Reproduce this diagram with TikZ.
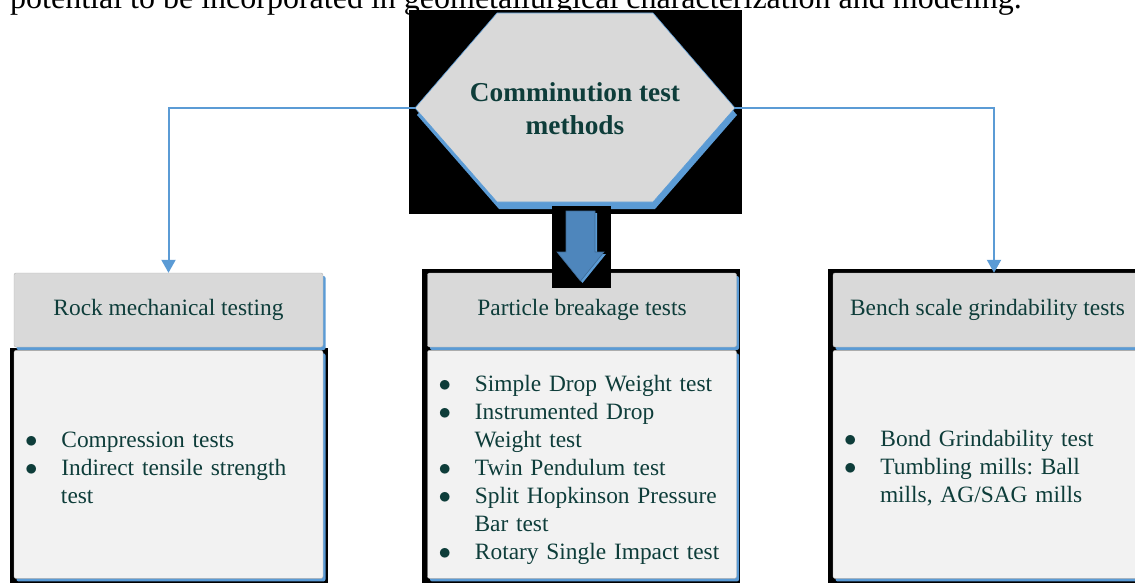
\documentclass[tikz,border=0pt]{standalone}
\usepackage{fontspec}
\setmainfont{Liberation Serif}
\usetikzlibrary{positioning,arrows.meta,shadows}
\definecolor{linkblue}{HTML}{5B9BD5}
\definecolor{headgray}{HTML}{D9D9D9}
\definecolor{bodygray}{HTML}{F2F2F2}
\definecolor{inkteal}{HTML}{0E3D3A}
\definecolor{arrowblue}{HTML}{4E86BC}
\frenchspacing
\newcommand{\headfont}{\fontsize{23.4}{28}\selectfont}
\newenvironment{testlist}{\begin{list}{\ensuremath{\bullet}}{%
  \setlength{\leftmargin}{47pt}\setlength{\labelwidth}{12pt}%
  \setlength{\labelsep}{24pt}\setlength{\itemsep}{0pt}%
  \setlength{\parsep}{0pt}\setlength{\topsep}{0pt}\setlength{\partopsep}{0pt}}}%
  {\end{list}}

\begin{document}
\begin{tikzpicture}[x=1pt,y=-1pt,
  link/.style={linkblue,line width=2pt,-{Triangle[width=14pt,length=13pt]}},
  head/.style={draw=gray!60,fill=headgray,rounded corners=2pt,
    minimum width=309pt,minimum height=74pt,inner sep=0pt,
    text=inkteal,font=\headfont,
    drop shadow={shadow xshift=2.5pt,shadow yshift=-3pt,fill=linkblue,opacity=1}},
  body/.style={head,fill=bodygray,minimum height=228pt},
  items/.style={anchor=west,inner sep=0pt,text width=300pt,align=left,
    text=inkteal,font=\headfont}]
\useasboundingbox (0,0) rectangle (1135,583);
\clip (0,0) rectangle (1135,583);

% line of running text cut by the top edge
\node[anchor=base west,inner sep=0pt,font=\fontsize{32}{38}\selectfont] (runtext) at (10,9)
  {potential to be incorporated in geometallurgical characterization and modeling.};

% black backdrops
\fill (409,10) rectangle (742,214);
\fill (10,348) rectangle (328,583);
\fill (422,269) rectangle (740,583);
\fill (828,269) rectangle (1135,583);

% hexagon
\fill[linkblue,shift={(2,7)}] (497,13) -- (653,13) -- (735,108) -- (653,202) -- (497,202) -- (415,108) -- cycle;
\draw[linkblue,line width=0.6pt,fill=headgray] (497,13) -- (653,13) -- (735,108) -- (653,202) -- (497,202) -- (415,108) -- cycle;
\coordinate (hexW) at (415,108);
\coordinate (hexE) at (735,108);
\node[font=\fontsize{27.3}{33}\selectfont\bfseries,text=inkteal,align=center] (title) at (575,109)
  {Comminution test\\methods};

% headers
\node[head] (rockhead) at (168.5,310) {Rock mechanical testing};
\node[head] (breakhead) at (582,310) {Particle breakage tests};
\node[head] (benchhead) at (987.5,310) {Bench scale grindability tests};

% bodies
\node[body,below=3pt of rockhead] (rockbody) {};
\node[body,below=3pt of breakhead] (breakbody) {};
\node[body,below=3pt of benchhead] (benchbody) {};

\node[items,yshift=3pt] (rocklist) at (rockbody.west) {\begin{testlist}
  \item Compression tests
  \item Indirect tensile strength\newline test
\end{testlist}};
\node[items] (breaklist) at (breakbody.west) {\begin{testlist}
  \item Simple Drop Weight test
  \item Instrumented Drop\newline Weight test
  \item Twin Pendulum test
  \item Split Hopkinson Pressure\newline Bar test
  \item Rotary Single Impact test
\end{testlist}};
\node[items,yshift=2pt] (benchlist) at (benchbody.west) {\begin{testlist}
  \item Bond Grindability test
  \item Tumbling mills: Ball\newline mills, AG/SAG mills
\end{testlist}};

% block arrow down the middle
\fill (552,206) rectangle (611,288);
\fill[linkblue,shift={(2,2)}] (566,211) -- (595,211) -- (595,252) -- (604,252) -- (580.5,281) -- (557,252) -- (566,252) -- cycle;
\draw[fill=arrowblue,draw=arrowblue!80!black,line width=0.6pt] (566,211) -- (595,211) -- (595,252) -- (604,252) -- (580.5,281) -- (557,252) -- (566,252) -- cycle;

% connectors
\draw[link] (hexW) -| (rockhead.north);
\draw[link] (hexE) -| ([xshift=6.5pt]benchhead.north);

\end{tikzpicture}
\end{document}
